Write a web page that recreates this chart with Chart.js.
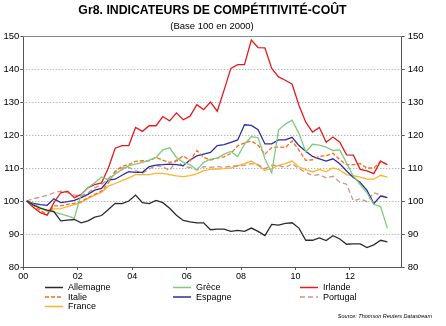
<!DOCTYPE html>
<html><head><meta charset="utf-8">
<script src="https://cdn.jsdelivr.net/npm/chart.js@4"></script>
<style>html,body{margin:0;padding:0;background:#fff;}#c{display:block}</style>
</head><body>
<canvas id="c" width="446" height="326" style="width:446px;height:326px"></canvas>
<script>
const chartTitle = "Gr8. INDICATEURS DE COMPÉTITIVITÉ-COÛT";
const chartSubtitle = "(Base 100 en 2000)";
const sourceText = "Source: Thomson Reuters Datastream";

// quarterly observations 2000T1 .. 2013T2
const quarters = [];
for (let y = 2000; y <= 2013; y++) for (let q = 1; q <= 4; q++) { if (y === 2013 && q > 2) break; quarters.push(y + "T" + q); }

const xTickValues = [0, 2, 4, 6, 8, 10, 12];
const yTickValues = [80, 90, 100, 110, 120, 130, 140, 150];

const allemagne = [100,98.8,97.8,97.2,96.8,94,94.2,94.4,93.4,94,95.1,95.6,97.4,99.3,99.2,100,101.8,99.5,99.2,100.2,99.5,97.8,95.7,94.1,93.7,93.4,93.4,91.3,91.5,91.5,90.8,91.1,90.8,91.8,90.8,89.5,92.9,92.7,93.2,93.4,91.8,88.1,88.1,88.8,88,89.5,88.5,86.9,87,87,85.9,86.7,88.1,87.6];
const grece = [100,99,98,97,96.6,96.1,95.5,94.8,102,104,105.5,107.3,106.4,108.2,109.5,110.7,111.2,111.7,112.4,113.2,115.5,116.1,113.2,111.7,111,109.4,111.7,112.7,113,114.2,115,113.5,117.2,119.5,119.2,112.8,108.5,121.5,123.3,124.5,120.5,114.9,117.2,116.9,116.3,115.3,115.5,111.5,107.5,105,102.5,99,98.3,91.7];
const irlande = [100,98,96.5,95.7,99.5,102.5,103,101,102,104,105,105.5,110,116,116.8,116.8,122.3,121.1,122.8,122.8,125.6,124.3,126.7,124.6,125.7,129.2,127.7,130,127.2,133.6,140.2,141.3,141.3,148.8,146.5,146.4,140.2,137.6,136.6,135.4,129,123.9,120.9,122.3,117.8,119.4,117.8,114,113.9,109.6,109.1,108.3,112.1,111];
const italie = [100,98.5,97.2,95.8,98.5,98.5,99,99.3,99.8,101,102,103,105.5,109,110.5,111,112,112.2,112.2,113.2,112.4,111.7,112.2,113.7,112.2,115.3,113.2,112.4,113,113.4,114.4,116.7,117.6,118.2,116.9,114.2,116.2,116.4,116.2,118.2,115.4,112.3,112.5,113.6,113.7,114.5,112.5,111,111,111.3,110,110,112,111];
const espagne = [100,99.3,98.9,98.7,100.7,99.5,99.8,100.2,101,102,103.3,103.8,106.3,106.6,107.8,108.9,108.7,108.7,110.4,110.9,111,111.2,111,110.7,112.4,113.7,114.2,114.7,116.8,117.1,117.8,118.5,123.1,122.9,121.6,117.3,117.3,118.5,118.5,119.3,116.8,115.1,113.5,112.8,112.1,112.8,111.3,109.1,107.1,105.6,103.2,99.2,101.5,101];
const portugal = [100,100.7,101.2,101.7,102.5,103,102.5,101.8,101.5,102.5,104,105,106.8,108.8,110,110.2,109.2,108.4,109.7,110.7,110.4,109.2,112.4,110.4,110.2,109.4,110.4,110.2,110.4,110.2,110.6,110.6,110.8,111.3,111,109.8,110.8,110.8,110.1,111.3,109.8,108.7,107.7,108,107,107.5,105.7,105.1,100,100.7,99.8,102.5,101.8,101];
const france = [100,99,97.9,96.9,97.6,97.7,98.3,98.9,99.5,100.8,101.8,102.7,104.5,105.3,106.2,107,108,108,108,108.4,108.4,108,107.6,107.4,107.7,108.2,109.2,109.6,109.7,109.8,110,110.7,111.3,112.1,110.8,109.3,109.8,110.8,111.3,112.1,110.3,109.5,108.8,109.6,108.9,110,109.4,108,107.7,107.2,106.6,106.6,107.8,107.2];

const seriesNames = ["Allemagne","Grèce","Irlande","Italie","Espagne","Portugal","France"];
const seriesValues = [allemagne, grece, irlande, italie, espagne, portugal, france];
const seriesColors = ["#2b2b2b","#7fc97f","#e41a1c","#ff6a1a","#2e2e9e","#c9958a","#ffb328"];
const seriesDash = [[],[],[],[4,2],[],[5,3],[]];

function quarterPos(lbl) {
  const y = parseInt(lbl.slice(0,4)), q = parseInt(lbl.slice(5));
  return (y - 2000) + (q - 0.5) / 4;
}

const FONT = '"Liberation Sans", Arial, sans-serif';

const datasets = seriesNames.map((n, k) => ({
  label: n,
  data: seriesValues[k].map((v, i) => ({ x: quarterPos(quarters[i]), y: v })),
  borderColor: seriesColors[k],
  backgroundColor: seriesColors[k],
  borderDash: seriesDash[k],
  borderWidth: 1.3,
  pointRadius: 0,
  tension: 0,
  fill: false
}));

const decor = {
  id: 'decor',
  beforeDatasetsDraw(chart) {
    const ctx = chart.ctx, a = chart.chartArea, ys = chart.scales.y;
    ctx.save();
    ctx.strokeStyle = '#9a9a9a';
    ctx.lineWidth = 1;
    ctx.setLineDash([1, 2]);
    yTickValues.forEach(v => {
      if (v === 80 || v === 150) return;
      const py = Math.round(ys.getPixelForValue(v)) + 0.5;
      ctx.beginPath(); ctx.moveTo(a.left, py); ctx.lineTo(a.right, py); ctx.stroke();
    });
    ctx.setLineDash([]);
    ctx.strokeStyle = '#8a8a8a';
    const top = Math.round(ys.getPixelForValue(150)) + 0.5;
    ctx.beginPath(); ctx.moveTo(a.left, top); ctx.lineTo(a.right, top); ctx.stroke();
    ctx.restore();
  },
  afterDraw(chart) {
    const ctx = chart.ctx;
    ctx.save();
    ctx.fillStyle = '#000';
    ctx.textAlign = 'center';
    ctx.textBaseline = 'alphabetic';
    ctx.font = 'bold 12.3px ' + FONT;
    ctx.fillText(chartTitle, 212.5, 14);
    ctx.font = '9.5px ' + FONT;
    ctx.fillText(chartSubtitle, 212, 28.5);
    // legend, 3 columns
    const colX = [45, 173, 300], rowY = [287.5, 297, 306.5];
    ctx.font = '9px ' + FONT;
    ctx.textAlign = 'left';
    ctx.textBaseline = 'middle';
    chart.data.datasets.forEach((ds, k) => {
      const x = colX[k % 3], y = rowY[Math.floor(k / 3)];
      ctx.strokeStyle = ds.borderColor;
      ctx.lineWidth = 1.5;
      ctx.setLineDash(ds.borderDash || []);
      ctx.beginPath(); ctx.moveTo(x, y); ctx.lineTo(x + 18, y); ctx.stroke();
      ctx.setLineDash([]);
      ctx.fillStyle = '#000';
      ctx.fillText(ds.label, x + 23, y + 0.5);
    });
    ctx.font = 'italic 5.5px ' + FONT;
    ctx.textAlign = 'right';
    ctx.textBaseline = 'alphabetic';
    ctx.fillText(sourceText, 432, 318);
    ctx.restore();
  }
};

const axisColor = '#555';
new Chart(document.getElementById('c'), {
  type: 'line',
  data: { datasets },
  options: {
    responsive: false,
    animation: false,
    devicePixelRatio: 1,
    layout: { padding: { top: 36, left: 0, right: 0, bottom: 0 } },
    plugins: { legend: { display: false }, title: { display: false }, tooltip: { enabled: false } },
    scales: {
      x: {
        type: 'linear', min: 0, max: 13.9,
        afterBuildTicks: s => { s.ticks = xTickValues.map(v => ({ value: v })); },
        afterFit: s => { s.height = 59; },
        ticks: { callback: v => String(v).padStart(2, '0'), font: { size: 9, family: FONT }, color: '#000', padding: 1, maxRotation: 0, autoSkip: false },
        grid: { drawOnChartArea: false, drawTicks: true, tickLength: 3, color: axisColor },
        border: { color: axisColor, width: 1 }
      },
      y: {
        position: 'left', min: 80, max: 150,
        afterBuildTicks: s => { s.ticks = yTickValues.map(v => ({ value: v })); },
        afterFit: s => { s.width = 23.3; },
        ticks: { font: { size: 9.5, family: FONT }, color: '#000', padding: 1 },
        grid: { drawOnChartArea: false, drawTicks: true, tickLength: 3, color: axisColor },
        border: { color: axisColor, width: 1 }
      },
      y2: {
        position: 'right', min: 80, max: 150,
        afterBuildTicks: s => { s.ticks = yTickValues.map(v => ({ value: v })); },
        afterFit: s => { s.width = 44.3; },
        ticks: { font: { size: 9.5, family: FONT }, color: '#000', padding: 3 },
        grid: { drawOnChartArea: false, drawTicks: true, tickLength: 3, color: axisColor },
        border: { color: axisColor, width: 1 }
      }
    }
  },
  plugins: [decor]
});
</script>
</body></html>
